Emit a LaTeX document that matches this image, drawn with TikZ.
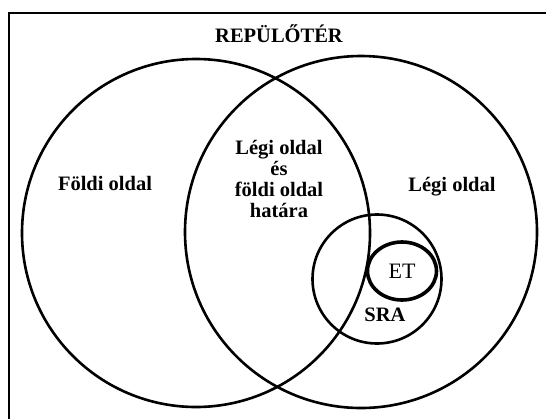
\documentclass[tikz,border=0pt]{standalone}
\usepackage{fontspec}
\setmainfont{Liberation Serif}
\usetikzlibrary{shapes.geometric}
\begin{document}
\begin{tikzpicture}[x=1pt,y=-1pt,
  ring/.style={circle, draw, line width=2.6pt, inner sep=0pt},
  lbl/.style={font=\fontsize{20.5}{21}\selectfont\bfseries, anchor=base, inner sep=0pt},
  frame/.style={line width=2.8pt}]
\useasboundingbox (0,0) rectangle (546,418);
\draw[frame] (9,420) -- (9,13) -- (548,13);
\node[ring, minimum size=348pt] (foldi) at (196,233) {};
\node[ring, minimum size=352pt] (legi) at (361,232) {};
\node[ring, minimum size=129pt] (sra) at (377,279) {};
\node[ellipse, draw, line width=3.6pt, minimum width=69pt, minimum height=58pt, inner sep=0pt, font=\fontsize{22}{22}\selectfont] (et) at (402,271) {ET};
\node[lbl] (title) at (279,42) {REPÜLŐTÉR};
\node[lbl] (fl) at (105,190) {Földi oldal};
\node[lbl] (ll) at (452,191) {Légi oldal};
\node[lbl, anchor=north, align=center] (hatar) at (279,140.5) {Légi oldal\\és\\földi oldal\\határa};
\node[lbl] (sralbl) at (385,321) {SRA};
\end{tikzpicture}
\end{document}
